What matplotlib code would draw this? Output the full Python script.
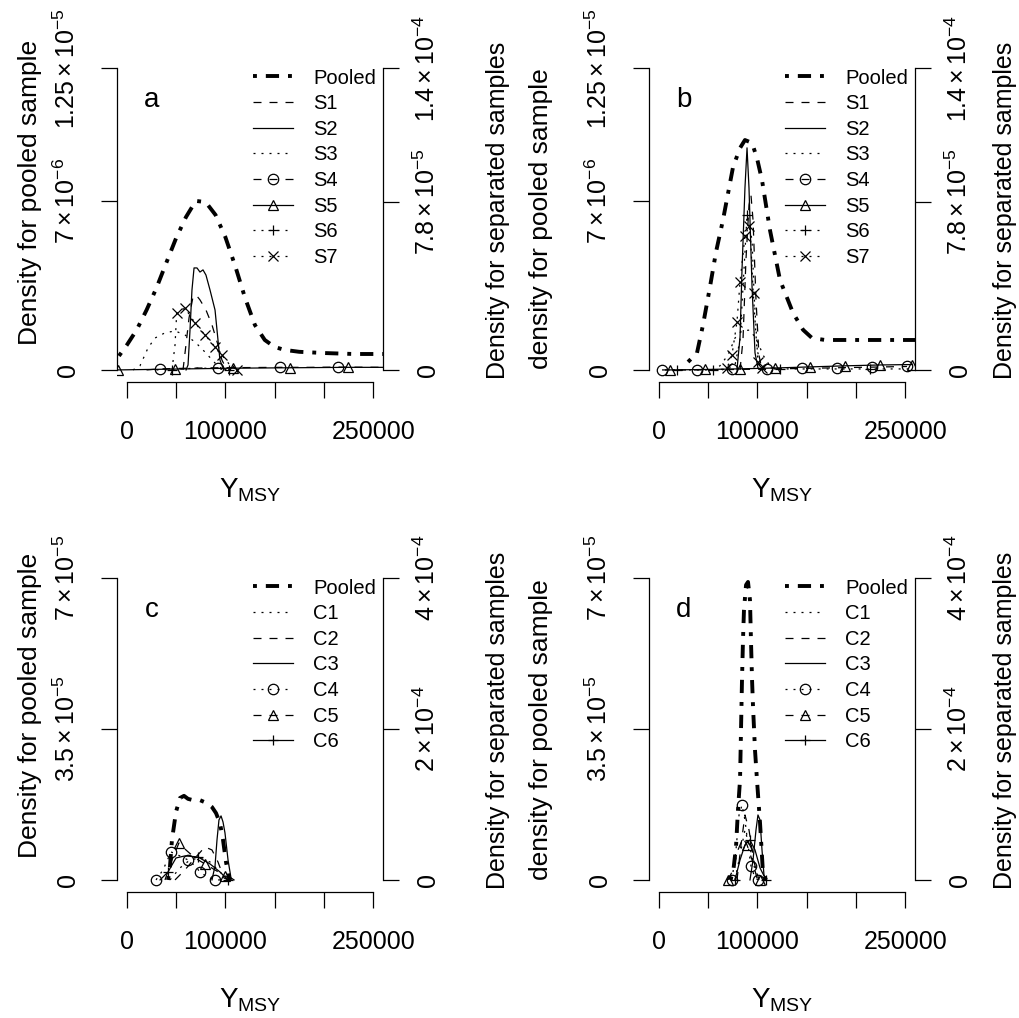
import matplotlib
matplotlib.use('Agg')
import matplotlib.pyplot as plt

plt.rcParams['font.family'] = 'Liberation Sans'
plt.rcParams['mathtext.fontset'] = 'custom'
plt.rcParams['mathtext.rm'] = 'Liberation Sans'
plt.rcParams['mathtext.it'] = 'Liberation Sans:italic'
plt.rcParams['mathtext.bf'] = 'Liberation Sans:bold'

# ---- eixos ----
x_ticks = [0, 50000, 100000, 150000, 200000, 250000]
x_ticklabels = ['0', '', '100000', '', '', '250000']

top_left_ticks = [0, 7e-6, 1.25e-5]
top_left_labels = ['0', r'$7\times10^{-6}$', r'$1.25\times10^{-5}$']
top_right_ticks = [0, 7.8e-5, 1.4e-4]
top_right_labels = ['0', r'$7.8\times10^{-5}$', r'$1.4\times10^{-4}$']
bot_left_ticks = [0, 3.5e-5, 7e-5]
bot_left_labels = ['0', r'$3.5\times10^{-5}$', r'$7\times10^{-5}$']
bot_right_ticks = [0, 2e-4, 4e-4]
bot_right_labels = ['0', r'$2\times10^{-4}$', r'$4\times10^{-4}$']

s_names = ['S1', 'S2', 'S3', 'S4', 'S5', 'S6', 'S7']
c_names = ['C1', 'C2', 'C3', 'C4', 'C5', 'C6']

# ---- painel a ----
pooled_a_x = [-8000, 0, 10000, 20000, 30000, 40000, 50000, 60000, 70000, 80000, 90000,
              100000, 110000, 120000, 130000, 140000, 150000, 160000, 175000, 200000, 230000, 260000]
pooled_a_y = [5.8e-7, 1.03e-6, 1.66e-6, 2.48e-6, 3.39e-6, 4.43e-6, 5.46e-6, 6.33e-6, 7.0e-6, 6.95e-6, 6.42e-6,
              5.5e-6, 4.3e-6, 2.98e-6, 1.86e-6, 1.24e-6, 9.5e-7, 8.3e-7, 7.5e-7, 7.0e-7, 6.6e-7, 6.6e-7]
s1_a_x = [57000, 60000, 63100, 67100, 70200, 74200, 80300, 86400, 92500, 96500, 100600, 104700]
s1_a_y = [0, 1.16e-5, 2.41e-5, 3.38e-5, 3.48e-5, 3.25e-5, 2.78e-5, 2.09e-5, 1.16e-5, 4.6e-6, 9e-7, 0]
s2_a_x = [60100, 62100, 64100, 66100, 68200, 71200, 74200, 77300, 80300, 84400, 89500, 92500, 94500, 97600, 100600]
s2_a_y = [0, 2.3e-6, 1.85e-5, 3.71e-5, 4.73e-5, 4.73e-5, 4.54e-5, 4.64e-5, 4.4e-5, 3.71e-5, 2.78e-5, 1.39e-5,
          4.6e-6, 9e-7, 0]
s3_a_x = [6200, 13300, 21500, 28600, 38700, 48900, 59000, 69200, 79300, 89500, 96600, 100600]
s3_a_y = [0, 1.9e-6, 1.02e-5, 1.48e-5, 1.72e-5, 1.81e-5, 1.62e-5, 1.3e-5, 8.3e-6, 3.2e-6, 5e-7, 0]
s4_a_x = [20000, 33700, 63000, 92500, 124000, 155400, 185000, 214300, 260000]
s4_a_y = [0, 5e-7, 8e-7, 1.0e-6, 1.1e-6, 1.2e-6, 1.2e-6, 1.3e-6, 1.2e-6]
s5_a_x = [-8900, 20000, 48900, 78000, 107700, 136000, 165600, 195000, 224500, 260000]
s5_a_y = [0, 2e-7, 4e-7, 6e-7, 8e-7, 9e-7, 1.0e-6, 1.1e-6, 1.2e-6, 1.2e-6]
s6_a_x = [30000, 45800, 60000, 75000, 90000, 104000, 118000]
s6_a_y = [0, 1e-7, 6e-7, 9e-7, 5e-7, 1e-7, 0]
s7_a_x = [45800, 48900, 50600, 59000, 69200, 79300, 89500, 96300, 103700, 111500]
s7_a_y = [0, 1.16e-5, 2.64e-5, 2.87e-5, 2.18e-5, 1.62e-5, 1.07e-5, 6.9e-6, 2.8e-6, 0]

# ---- painel b ----
pooled_b_x = [29600, 38700, 44800, 51900, 58000, 65100, 75300, 82400, 87400, 94600, 99600, 104700,
              112800, 123000, 136200, 146400, 155500, 168700, 214300, 260000]
pooled_b_y = [3.3e-7, 7.0e-7, 1.86e-6, 3.44e-6, 4.88e-6, 6.21e-6, 8.4e-6, 9.19e-6, 9.52e-6, 9.4e-6, 8.77e-6,
              7.86e-6, 5.79e-6, 3.72e-6, 2.36e-6, 1.66e-6, 1.32e-6, 1.24e-6, 1.24e-6, 1.24e-6]
s1_b_x = [82400, 85400, 88400, 91500, 93500, 95600, 98600, 101600, 104700]
s1_b_y = [0, 1.39e-5, 5.1e-5, 7.65e-5, 8.11e-5, 6.95e-5, 3.25e-5, 6.9e-6, 0]
s2_b_x = [79300, 82400, 84400, 87400, 89500, 91500, 94600, 97600, 100600, 103700]
s2_b_y = [0, 1.53e-5, 4.64e-5, 8.44e-5, 1.03e-4, 8.44e-5, 3.85e-5, 7.9e-6, 9e-7, 0]
s3_b_x = [53900, 62000, 70200, 77300, 84400, 92500, 99600, 105700, 112800, 120900]
s3_b_y = [0, 1.9e-6, 6.9e-6, 1.48e-5, 1.81e-5, 1.85e-5, 1.39e-5, 6.9e-6, 1.9e-6, 0]
s4_b_x = [3200, 38700, 74200, 109800, 145300, 180900, 216400, 251900]
s4_b_y = [0, 0, 2e-7, 4e-7, 7e-7, 1.0e-6, 1.3e-6, 1.6e-6]
s5_b_x = [11300, 46900, 82400, 117900, 153500, 189000, 224500, 257000]
s5_b_y = [0, 2e-7, 5e-7, 9e-7, 1.4e-6, 1.9e-6, 2.3e-6, 2.5e-6]
s6_b_x = [6200, 18400, 36700, 55000, 70200, 77300, 82400, 86400, 89500, 92500, 95600, 99600, 104700,
          123000, 143300, 173800, 214300, 254900]
s6_b_y = [0, 0, 0, 0, 4.6e-7, 2.3e-6, 1.39e-5, 4.64e-5, 7.19e-5, 6.72e-5, 3.71e-5, 9.3e-6, 1.4e-6,
          4.6e-7, 4.6e-7, 4.6e-7, 4.6e-7, 4.6e-7]
s7_b_x = [64100, 69200, 74200, 79300, 82400, 87400, 91500, 94600, 96600, 100600, 104700, 109800]
s7_b_y = [0, 9e-7, 6.9e-6, 2.23e-5, 4.08e-5, 6.21e-5, 6.68e-5, 6.03e-5, 3.57e-5, 3.7e-6, 9e-7, 0]

# ---- painel c ----
pooled_c_x = [41800, 43800, 45800, 49900, 53900, 58000, 62100, 67100, 74200, 81400, 86400, 90500, 94500,
              97600, 100600, 103700, 105700]
pooled_c_y = [0, 3.2e-6, 9.3e-6, 1.58e-5, 1.9e-5, 1.95e-5, 1.88e-5, 1.85e-5, 1.85e-5, 1.78e-5, 1.69e-5,
              1.55e-5, 1.32e-5, 9.3e-6, 4.2e-6, 5e-7, 0]
c1_c_x = [43800, 53900, 64100, 74200, 84400, 94500, 102700]
c1_c_y = [0, 1.59e-5, 2.65e-5, 2.91e-5, 2.38e-5, 1.06e-5, 0]
c2_c_x = [48900, 58900, 69200, 79300, 86400, 92500, 98600, 102700]
c2_c_y = [0, 1.32e-5, 2.91e-5, 4.37e-5, 3.97e-5, 2.38e-5, 2.6e-6, 0]
c3_c_x = [86400, 89500, 91500, 93500, 95600, 97600, 99600, 102700, 105700, 108800]
c3_c_y = [0, 1.85e-5, 5.3e-5, 7.95e-5, 8.48e-5, 7.68e-5, 6.23e-5, 2.65e-5, 2.6e-6, 0]
c4_c_x = [29600, 36700, 44800, 53900, 62100, 69200, 74200, 81400, 89500, 96600]
c4_c_y = [0, 1.32e-5, 3.71e-5, 3.18e-5, 2.65e-5, 1.85e-5, 1.06e-5, 4.0e-6, 0, 0]
c5_c_x = [38700, 45800, 52900, 60000, 69200, 79300, 89500, 99600, 106700]
c5_c_y = [0, 2.65e-5, 4.9e-5, 3.97e-5, 2.91e-5, 2.12e-5, 1.32e-5, 5.3e-6, 0]
c6_c_x = [33700, 41800, 49900, 58900, 72200, 84400, 94500, 102700]
c6_c_y = [0, 1.06e-5, 2.91e-5, 3.18e-5, 3.05e-5, 2.12e-5, 1.06e-5, 0]

# ---- painel d ----
pooled_d_x = [72200, 75300, 78300, 80300, 82400, 83400, 84400, 85400, 86400, 88500, 90500, 92500, 93500,
              94600, 95600, 97600, 99600, 102700, 105700, 108800]
pooled_d_y = [0, 1.6e-6, 7.6e-6, 1.62e-5, 2.32e-5, 3.48e-5, 4.64e-5, 5.56e-5, 6.26e-5, 6.84e-5, 6.91e-5,
              6.49e-5, 5.56e-5, 4.64e-5, 4.01e-5, 3.01e-5, 2.32e-5, 1.32e-5, 1.6e-6, 0]
c1_d_x = [77300, 82400, 87400, 92500, 97600, 102700]
c1_d_y = [0, 3.31e-5, 6.62e-5, 4.24e-5, 1.32e-5, 0]
c2_d_x = [79300, 83400, 87400, 91500, 96600, 101600]
c2_d_y = [0, 4.64e-5, 8.61e-5, 6.62e-5, 2.38e-5, 0]
c3_d_x = [92500, 95600, 98600, 100600, 102700, 104700, 106700, 108800]
c3_d_y = [0, 2.65e-5, 6.62e-5, 8.61e-5, 7.95e-5, 3.97e-5, 6.6e-6, 0]
c4_d_x = [74200, 78300, 81400, 84400, 87400, 90500, 93500, 97600, 100600]
c4_d_y = [0, 3.97e-5, 8.61e-5, 9.93e-5, 7.95e-5, 4.64e-5, 1.85e-5, 2.6e-6, 0]
c5_d_x = [70200, 75300, 80300, 85400, 89500, 94600, 99600, 102700]
c5_d_y = [0, 1.32e-5, 3.97e-5, 5.56e-5, 4.64e-5, 2.65e-5, 2.6e-6, 0]
c6_d_x = [77300, 82400, 87400, 92500, 97600, 102700, 108800]
c6_d_y = [0, 2.65e-5, 4.64e-5, 5.3e-5, 3.97e-5, 1.59e-5, 0]

# ---- estilos (tipo lty do R) ----
LW = 0.9
DASH = (0, (6.4, 6.4))
DOT = (0, (1.6, 4.8))
POOLED_STYLE = dict(lw=2.8, ls=(0, (1, 2.3, 3.4, 2.3)))
S_STYLES = [
    dict(ls=DASH), dict(ls='-'), dict(ls=DOT),
    dict(ls=DASH, marker='o', markevery=[1, 3, 5, 7]),
    dict(ls='-', marker='^', markevery=[0, 2, 4, 6, 8]),
    dict(ls=DOT, marker='+', markevery=[1, 5]),
    dict(ls=DOT, marker='x', markevery=[2, 3, 4, 5, 6, 7, 9]),
]
S_STYLES_B = [
    dict(ls=DASH), dict(ls='-'), dict(ls=DOT),
    dict(ls=DASH, marker='o', markevery=None),
    dict(ls='-', marker='^', markevery=None),
    dict(ls=DOT, marker='+', markevery=[1, 3, 8, 13, 16]),
    dict(ls=DOT, marker='x', markevery=[1, 2, 3, 4, 5, 6, 8, 9, 10]),
]
C_STYLES_C = [
    dict(ls=DOT), dict(ls=DASH), dict(ls='-'),
    dict(ls=DOT, marker='o', markevery=[0, 2, 4, 6, 8]),
    dict(ls=DASH, marker='^', markevery=[2, 5, 7]),
    dict(ls='-', marker='+', markevery=[1, 4, 7]),
]
C_STYLES_D = [
    dict(ls=DOT), dict(ls=DASH), dict(ls='-'),
    dict(ls=DOT, marker='o', markevery=[0, 3, 6, 8]),
    dict(ls=DASH, marker='^', markevery=[0, 4, 7]),
    dict(ls='-', marker='+', markevery=[0, 3, 6]),
]

W, H = 1019, 1018
fig = plt.figure(figsize=(W / 100, H / 100), dpi=100)


def desenha_painel(x0, ytop, letra, pooled, series, nomes, estilos,
                   lticks, llabels, rticks, rlabels, ylab_esq, ylab_esq_pos, ylab_dir_pos):
    x1, ybot = x0 + 266, ytop + 326
    ax = fig.add_axes([x0 / W, 1 - ybot / H, (x1 - x0) / W, (ybot - ytop) / H])
    ax2 = ax.twinx()
    ax.patch.set_visible(False)
    ltop, rtop = lticks[-1], rticks[-1]
    ax.set_xlim(-10000, 260000)
    ax.set_ylim(-0.04 * ltop, 1.04 * ltop)
    ax2.set_ylim(-0.04 * rtop, 1.04 * rtop)

    for s in ['top', 'right']:
        ax.spines[s].set_visible(False)
    for s in ['top', 'left', 'bottom']:
        ax2.spines[s].set_visible(False)
    ax.spines['left'].set_bounds(0, ltop)
    ax.spines['bottom'].set_bounds(0, 250000)
    ax2.spines['right'].set_bounds(0, rtop)
    for a in (ax, ax2):
        for sp in a.spines.values():
            sp.set_linewidth(0.9)
        a.tick_params(direction='out', length=11.5, width=0.9)

    ax.set_xticks(x_ticks)
    ax.set_xticklabels(x_ticklabels, fontsize=18)
    ax.tick_params(axis='x', pad=16)
    ax.set_yticks(lticks)
    ax.set_yticklabels([])
    ax2.set_yticks(rticks)
    ax2.set_yticklabels([])

    # rotulos dos ticks, paralelos ao eixo como no R
    for v, t in zip(lticks, llabels):
        ax.text(-42 / 266, v, t, transform=ax.get_yaxis_transform(), fontsize=18,
                rotation=90, rotation_mode='anchor', ha='center', va='baseline')
    for v, t in zip(rticks, rlabels):
        ax2.text(1 + 52 / 266, v, t, transform=ax2.get_yaxis_transform(), fontsize=18,
                 rotation=90, rotation_mode='anchor', ha='center', va='baseline')

    handles = []
    h, = ax.plot(pooled[0], pooled[1], color='black', **POOLED_STYLE)
    handles.append(h)
    for (xs, ys), st in zip(series, estilos):
        h, = ax2.plot(xs, ys, color='black', lw=LW, ms=7.5, mfc='none', mew=0.9, **st)
        handles.append(h)

    ax2.legend(handles, ['Pooled'] + nomes, loc='upper left',
               bbox_to_anchor=((x0 + 136) / W, 1 - (ytop + 12.5) / H), bbox_transform=fig.transFigure,
               frameon=False, fontsize=14.5, handlelength=2.0, handletextpad=1.0,
               labelspacing=0.33, borderaxespad=0, borderpad=0, numpoints=1)

    fig.text((x0 + 35) / W, 1 - (ytop + 44) / H, letra, fontsize=20, ha='center', va='center')
    fig.text((x0 + 133) / W, 1 - (ytop + 421) / H, r'$\mathregular{Y_{MSY}}$', fontsize=20,
             ha='center', va='top')
    fig.text(ylab_esq_pos[0] / W, 1 - ylab_esq_pos[1] / H, ylab_esq, fontsize=19,
             rotation=90, rotation_mode='anchor', ha='center', va='baseline')
    fig.text(ylab_dir_pos[0] / W, 1 - ylab_dir_pos[1] / H, 'Density for separated samples', fontsize=18,
             rotation=90, rotation_mode='anchor', ha='center', va='baseline')


series_a = [(s1_a_x, s1_a_y), (s2_a_x, s2_a_y), (s3_a_x, s3_a_y), (s4_a_x, s4_a_y),
            (s5_a_x, s5_a_y), (s6_a_x, s6_a_y), (s7_a_x, s7_a_y)]
series_b = [(s1_b_x, s1_b_y), (s2_b_x, s2_b_y), (s3_b_x, s3_b_y), (s4_b_x, s4_b_y),
            (s5_b_x, s5_b_y), (s6_b_x, s6_b_y), (s7_b_x, s7_b_y)]
series_c = [(c1_c_x, c1_c_y), (c2_c_x, c2_c_y), (c3_c_x, c3_c_y), (c4_c_x, c4_c_y),
            (c5_c_x, c5_c_y), (c6_c_x, c6_c_y)]
series_d = [(c1_d_x, c1_d_y), (c2_d_x, c2_d_y), (c3_d_x, c3_d_y), (c4_d_x, c4_d_y),
            (c5_d_x, c5_d_y), (c6_d_x, c6_d_y)]

desenha_painel(117, 56, 'a', (pooled_a_x, pooled_a_y), series_a, s_names, S_STYLES,
               top_left_ticks, top_left_labels, top_right_ticks, top_right_labels,
               'Density for pooled sample', (37, 192), (505, 210))
desenha_painel(649, 56, 'b', (pooled_b_x, pooled_b_y), series_b, s_names, S_STYLES_B,
               top_left_ticks, top_left_labels, top_right_ticks, top_right_labels,
               'density for pooled sample', (548, 219), (1012, 210))
desenha_painel(117, 566, 'c', (pooled_c_x, pooled_c_y), series_c, c_names, C_STYLES_C,
               bot_left_ticks, bot_left_labels, bot_right_ticks, bot_right_labels,
               'Density for pooled sample', (37, 705), (505, 720))
desenha_painel(649, 566, 'd', (pooled_d_x, pooled_d_y), series_d, c_names, C_STYLES_D,
               bot_left_ticks, bot_left_labels, bot_right_ticks, bot_right_labels,
               'density for pooled sample', (548, 730), (1012, 720))

fig.savefig('out.png', dpi=100)
